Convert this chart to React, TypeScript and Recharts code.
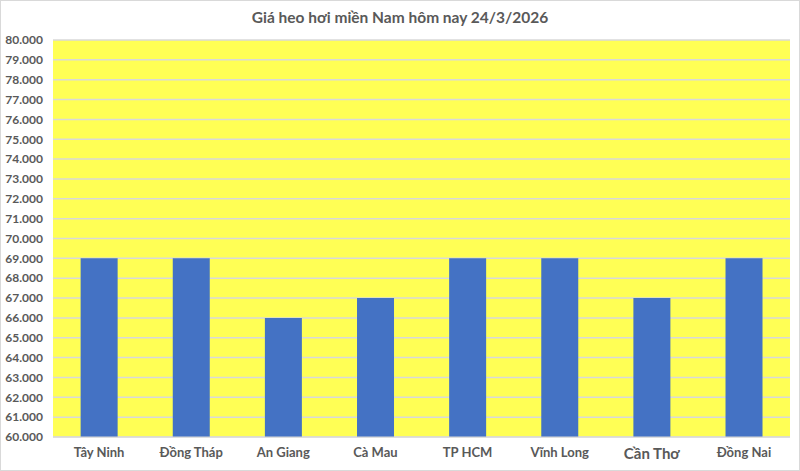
import React from "react";
import { BarChart, Bar, XAxis, YAxis, CartesianGrid } from "recharts";

const categories = ["Tây Ninh", "Đồng Tháp", "An Giang", "Cà Mau", "TP HCM", "Vĩnh Long", "Cần Thơ", "Đồng Nai"];
const prices = [69000, 69000, 66000, 67000, 69000, 69000, 67000, 69000];
const yTicks = [60000, 61000, 62000, 63000, 64000, 65000, 66000, 67000, 68000, 69000, 70000, 71000, 72000, 73000, 74000, 75000, 76000, 77000, 78000, 79000, 80000];
const title = "Giá heo hơi miền Nam hôm nay 24/3/2026";

const data = categories.map((c, i) => ({ name: c, value: prices[i] }));

const FONT = "Lato, 'Open Sans', sans-serif";
const TEXT = "#595959";

const fmt = (v: number) => {
  const s = String(Math.round(v));
  return s.slice(0, s.length - 3) + "." + s.slice(-3);
};

const XTick = (props: any) => {
  const { x, y, payload } = props;
  const big = payload.value === "Cần Thơ";
  return (
    <text x={x} y={y} dy="0.71em" textAnchor="middle" fill={TEXT} fontFamily={FONT} fontWeight={700} fontSize={big ? 15 : 13}>
      {payload.value}
    </text>
  );
};

export default function App() {
  return (
    <div style={{ position: "fixed", left: 0, top: 0, width: 800, height: 471, background: "#fff", boxSizing: "border-box", border: "1px solid #d9d9d9" }}>
      <div style={{ position: "absolute", top: 7, left: 0, width: 798, textAlign: "center", fontFamily: FONT, fontWeight: 700, fontSize: 15.5, color: TEXT }}>
        {title}
      </div>
      <BarChart width={798} height={469} data={data} margin={{ top: 39, right: 9, bottom: 3, left: 0 }} barCategoryGap="30%">
        <CartesianGrid vertical={false} stroke="#d9d9d9" strokeWidth={1.5} fill="#FFFF55" fillOpacity={1} />
        <XAxis dataKey="name" height={30} axisLine={{ stroke: "#d9d9d9" }} tickLine={false} tickSize={8} tickMargin={3} tick={<XTick />} interval={0} />
        <YAxis
          width={52}
          domain={[60000, 80000]}
          ticks={yTicks}
          interval={0}
          axisLine={false}
          tickLine={false}
          tickSize={8}
          tickMargin={2}
          tickFormatter={(v: number) => fmt(v)}
          tick={{ fill: TEXT, fontFamily: FONT, fontWeight: 700, fontSize: 12 }}
        />
        <Bar dataKey="value" fill="#4472C4" isAnimationActive={false} />
      </BarChart>
    </div>
  );
}
